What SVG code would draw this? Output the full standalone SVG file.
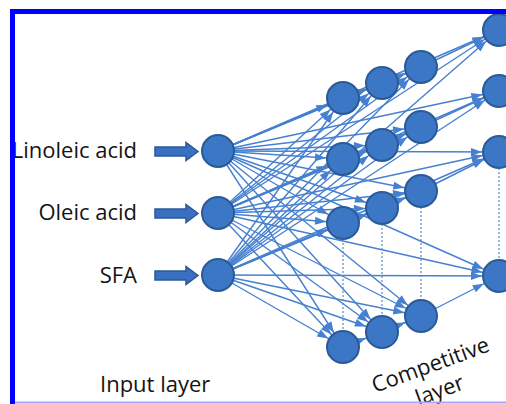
<svg xmlns="http://www.w3.org/2000/svg" width="506" height="404" viewBox="0 0 506 404">
  <style>
    .lbl { font-family: "Open Sans", "Liberation Sans", sans-serif; font-size: 22px; fill: #141414; }
    .node { fill: #3b77c4; stroke: #2b5a98; stroke-width: 2; }
    .link { stroke: #4680d0; stroke-width: 1.4; fill: none; marker-end: url(#tip); }
    .dots { stroke: #5a88cc; stroke-width: 1.2; stroke-dasharray: 2 2; fill: none; }
    .feed { fill: #3a70c0; stroke: #2a5898; stroke-width: 1.5; }
  </style>
  <defs>
    <!-- arrowhead placed just outside a node of radius 16 when the line ends at its centre -->
    <marker id="tip" markerUnits="userSpaceOnUse" viewBox="-29 -6 30 12" markerWidth="30" markerHeight="12" refX="0" refY="0" orient="auto">
      <path d="M-28,-4 L-17,0 L-28,4 z" fill="#4680d0"/>
    </marker>
  </defs>
  <rect width="506" height="404" fill="#ffffff"/>

  <!-- connectors -->
  <g id="connectors">
    <!-- input 1 to every competitive node -->
    <line class="link" x1="218" y1="151" x2="343" y2="98"/>
    <line class="link" x1="218" y1="151" x2="382" y2="83"/>
    <line class="link" x1="218" y1="151" x2="421" y2="67"/>
    <line class="link" x1="218" y1="151" x2="499" y2="30"/>
    <line class="link" x1="218" y1="151" x2="343" y2="159"/>
    <line class="link" x1="218" y1="151" x2="382" y2="145"/>
    <line class="link" x1="218" y1="151" x2="421" y2="127"/>
    <line class="link" x1="218" y1="151" x2="499" y2="91"/>
    <line class="link" x1="218" y1="151" x2="343" y2="223"/>
    <line class="link" x1="218" y1="151" x2="382" y2="208"/>
    <line class="link" x1="218" y1="151" x2="421" y2="191"/>
    <line class="link" x1="218" y1="151" x2="499" y2="152"/>
    <line class="link" x1="218" y1="151" x2="343" y2="347"/>
    <line class="link" x1="218" y1="151" x2="382" y2="332"/>
    <line class="link" x1="218" y1="151" x2="421" y2="316"/>
    <line class="link" x1="218" y1="151" x2="499" y2="276"/>
    <!-- input 2 -->
    <line class="link" x1="218" y1="213" x2="343" y2="98"/>
    <line class="link" x1="218" y1="213" x2="382" y2="83"/>
    <line class="link" x1="218" y1="213" x2="421" y2="67"/>
    <line class="link" x1="218" y1="213" x2="499" y2="30"/>
    <line class="link" x1="218" y1="213" x2="343" y2="159"/>
    <line class="link" x1="218" y1="213" x2="382" y2="145"/>
    <line class="link" x1="218" y1="213" x2="421" y2="127"/>
    <line class="link" x1="218" y1="213" x2="499" y2="91"/>
    <line class="link" x1="218" y1="213" x2="343" y2="223"/>
    <line class="link" x1="218" y1="213" x2="382" y2="208"/>
    <line class="link" x1="218" y1="213" x2="421" y2="191"/>
    <line class="link" x1="218" y1="213" x2="499" y2="152"/>
    <line class="link" x1="218" y1="213" x2="343" y2="347"/>
    <line class="link" x1="218" y1="213" x2="382" y2="332"/>
    <line class="link" x1="218" y1="213" x2="421" y2="316"/>
    <line class="link" x1="218" y1="213" x2="499" y2="276"/>
    <!-- input 3 -->
    <line class="link" x1="218" y1="275" x2="343" y2="98"/>
    <line class="link" x1="218" y1="275" x2="382" y2="83"/>
    <line class="link" x1="218" y1="275" x2="421" y2="67"/>
    <line class="link" x1="218" y1="275" x2="499" y2="30"/>
    <line class="link" x1="218" y1="275" x2="343" y2="159"/>
    <line class="link" x1="218" y1="275" x2="382" y2="145"/>
    <line class="link" x1="218" y1="275" x2="421" y2="127"/>
    <line class="link" x1="218" y1="275" x2="499" y2="91"/>
    <line class="link" x1="218" y1="275" x2="343" y2="223"/>
    <line class="link" x1="218" y1="275" x2="382" y2="208"/>
    <line class="link" x1="218" y1="275" x2="421" y2="191"/>
    <line class="link" x1="218" y1="275" x2="499" y2="152"/>
    <line class="link" x1="218" y1="275" x2="343" y2="347"/>
    <line class="link" x1="218" y1="275" x2="382" y2="332"/>
    <line class="link" x1="218" y1="275" x2="421" y2="316"/>
    <line class="link" x1="218" y1="275" x2="499" y2="276"/>
    <!-- links along each row of the competitive grid -->
    <line class="link" x1="343" y1="98" x2="382" y2="83"/>
    <line class="link" x1="382" y1="83" x2="421" y2="67"/>
    <line class="link" x1="421" y1="67" x2="499" y2="30"/>
    <line class="link" x1="343" y1="159" x2="382" y2="145"/>
    <line class="link" x1="382" y1="145" x2="421" y2="127"/>
    <line class="link" x1="421" y1="127" x2="499" y2="91"/>
    <line class="link" x1="343" y1="223" x2="382" y2="208"/>
    <line class="link" x1="382" y1="208" x2="421" y2="191"/>
    <line class="link" x1="421" y1="191" x2="499" y2="152"/>
    <line class="link" x1="343" y1="347" x2="382" y2="332"/>
    <line class="link" x1="382" y1="332" x2="421" y2="316"/>
    <line class="link" x1="421" y1="316" x2="499" y2="276"/>
    <!-- dotted columns between the third and last rows -->
    <line class="dots" x1="343" y1="223" x2="343" y2="347"/>
    <line class="dots" x1="382" y1="208" x2="382" y2="332"/>
    <line class="dots" x1="421" y1="191" x2="421" y2="316"/>
    <line class="dots" x1="499" y1="152" x2="499" y2="276"/>
  </g>

  <!-- input labels with feed arrows -->
  <g id="in-linoleic">
    <text class="lbl" x="137" y="158" text-anchor="end">Linoleic acid</text>
    <path class="feed" d="M155,147 H186 V142.5 L198,151.5 L186,160.5 V156 H155 Z"/>
    <circle class="node" cx="218" cy="151" r="16"/>
  </g>
  <g id="in-oleic">
    <text class="lbl" x="137" y="220" text-anchor="end">Oleic acid</text>
    <path class="feed" d="M155,209 H186 V204.5 L198,213.5 L186,222.5 V218 H155 Z"/>
    <circle class="node" cx="218" cy="213" r="16"/>
  </g>
  <g id="in-sfa">
    <text class="lbl" x="137" y="283" text-anchor="end">SFA</text>
    <path class="feed" d="M155,271 H186 V266.5 L198,275.5 L186,284.5 V280 H155 Z"/>
    <circle class="node" cx="218" cy="275" r="16"/>
  </g>

  <!-- competitive layer nodes -->
  <g id="c11"><circle class="node" cx="343" cy="98" r="16"/></g>
  <g id="c12"><circle class="node" cx="382" cy="83" r="16"/></g>
  <g id="c13"><circle class="node" cx="421" cy="67" r="16"/></g>
  <g id="c14"><circle class="node" cx="499" cy="30" r="16"/></g>
  <g id="c21"><circle class="node" cx="343" cy="159" r="16"/></g>
  <g id="c22"><circle class="node" cx="382" cy="145" r="16"/></g>
  <g id="c23"><circle class="node" cx="421" cy="127" r="16"/></g>
  <g id="c24"><circle class="node" cx="499" cy="91" r="16"/></g>
  <g id="c31"><circle class="node" cx="343" cy="223" r="16"/></g>
  <g id="c32"><circle class="node" cx="382" cy="208" r="16"/></g>
  <g id="c33"><circle class="node" cx="421" cy="191" r="16"/></g>
  <g id="c34"><circle class="node" cx="499" cy="152" r="16"/></g>
  <g id="c41"><circle class="node" cx="343" cy="347" r="16"/></g>
  <g id="c42"><circle class="node" cx="382" cy="332" r="16"/></g>
  <g id="c43"><circle class="node" cx="421" cy="316" r="16"/></g>
  <g id="c44"><circle class="node" cx="499" cy="276" r="16"/></g>

  <!-- layer captions -->
  <text class="lbl" x="100" y="392">Input layer</text>
  <g transform="translate(433,372) rotate(-20)">
    <text class="lbl" x="0" y="0" text-anchor="middle">Competitive</text>
    <text class="lbl" x="0" y="27" text-anchor="middle">layer</text>
  </g>

  <!-- frame -->
  <path d="M12.5,420 V11.5 H520" fill="none" stroke="#0000ff" stroke-width="5"/>
  <line x1="15" y1="402.5" x2="506" y2="402.5" stroke="#a8a8f6" stroke-width="2"/>
</svg>
